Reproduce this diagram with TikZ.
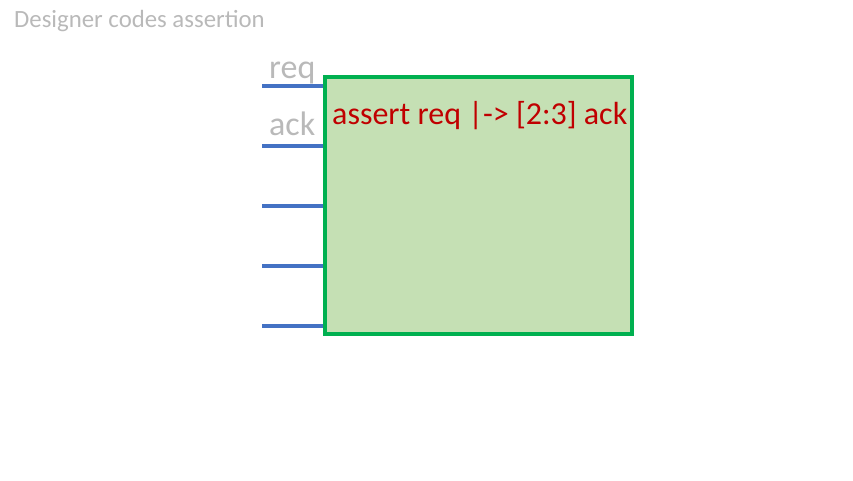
\documentclass[tikz,border=0pt]{standalone}
\usepackage{fontspec}
\setmainfont{Carlito}
\definecolor{boxgreen}{HTML}{00B050}
\definecolor{boxfill}{HTML}{C5E0B4}
\definecolor{pinblue}{HTML}{4472C4}
\definecolor{assertred}{HTML}{C00000}
\begin{document}
\begin{tikzpicture}[x=1pt,y=-1pt,
  pin/.style={draw=pinblue,line width=4pt},
  outlined/.style={text=gray!55,inner sep=0pt,anchor=base west},
  block/.style={draw=boxgreen,fill=boxfill,line width=3.2pt,inner sep=0pt}]
\useasboundingbox (0,0) rectangle (853,480);
\node[outlined,font=\fontsize{24.8}{28}\selectfont] (title) at (14,27) {Designer codes assertion};
\path[block] (325,77) rectangle (632,334);
\node[inner sep=0pt,minimum width=307pt,minimum height=257pt,anchor=north west] (box) at (325,77) {};
\foreach \i/\y in {1/86,2/146,3/206,4/266,5/326}{
  \coordinate (p\i) at (262,\y);
  \draw[pin] (p\i) -- (p\i -| box.west);
}
\draw[boxgreen,line width=3.2pt] (box.north west) -- (box.south west);
\node[outlined,font=\fontsize{34}{40}\selectfont] (req) at (269,78) {req};
\node[outlined,font=\fontsize{34}{40}\selectfont] (ack) at (269,135) {ack};
\node[inner sep=0pt,anchor=base west,text=assertred,font=\fontsize{32}{38}\selectfont] (code) at (332,124) {assert req |-> [2:3] ack};
\end{tikzpicture}
\end{document}
